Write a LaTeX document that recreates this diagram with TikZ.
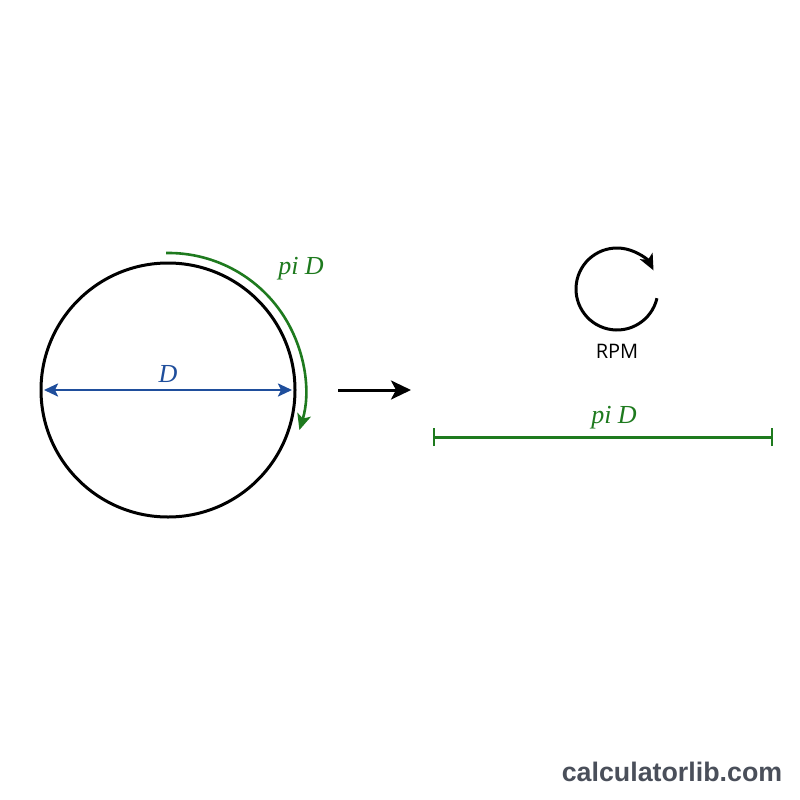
\documentclass[tikz,border=0pt]{standalone}
\usepackage{fontspec}
\setmainfont{Liberation Serif}
\newfontfamily\osans{Open Sans}
\newfontfamily\wmark{Liberation Sans}
\usetikzlibrary{arrows.meta,calc}
\definecolor{dblue}{HTML}{1F4E9C}
\definecolor{dgreen}{HTML}{1E7A1E}
\definecolor{wgray}{HTML}{4A4F5A}
\tikzset{
  lbl/.style={inner sep=0pt, font=\fontsize{26}{28}\selectfont\itshape},
  tipk/.style={-{Stealth[length=16pt,width=14pt,inset=4pt]}},
  tipbig/.style={-{Stealth[length=20pt,width=19pt,inset=5pt]}},
}
\begin{document}
\begin{tikzpicture}[x=1pt,y=-1pt]
\useasboundingbox[fill=white] (0,0) rectangle (800,800);
% main circle
\node[circle, draw, line width=3pt, minimum size=254pt, inner sep=0pt] (c) at (168,390) {};
% diameter
\coordinate (dl) at (44,390);
\coordinate (dr) at (292,390);
\draw[dblue, line width=2.4pt, {Stealth[length=14pt,width=13pt,inset=3pt]}-{Stealth[length=14pt,width=13pt,inset=3pt]}] (dl) -- (dr);
\node[lbl, text=dblue] (dlab) at (168,374) {D};
% circumference arc
\coordinate (a0) at (166,253);
\draw[dgreen, line width=2.6pt, tipk] (a0) arc[start angle=-91, end angle=17, radius=137];
\node[lbl, text=dgreen] (plab) at (301,269) {pi D};
% transform arrow
\coordinate (t0) at (338,390);
\coordinate (t1) at (411,390);
\draw[line width=3pt, tipbig] (t0) -- (t1);
% RPM
\coordinate (rc) at (617,289);
\draw[line width=3pt, tipk] ($(rc)+(13:41)$) arc[start angle=13, end angle=333, radius=41];
\node[font=\osans\fontsize{20}{22}\selectfont] (rpm) at (617,351) {RPM};
% unrolled length
\coordinate (g0) at (434,437);
\coordinate (g1) at (772,437);
\draw[dgreen, line width=3pt] (g0) -- (g1);
\draw[dgreen, line width=2.2pt] ([yshift=-9pt]g0) -- ([yshift=9pt]g0);
\draw[dgreen, line width=2.2pt] ([yshift=-9pt]g1) -- ([yshift=9pt]g1);
\node[lbl, text=dgreen] (glab) at (614,418) {pi D};
% watermark
\node[font=\wmark\bfseries\fontsize{26.8}{28}\selectfont, text=wgray] (wm) at (672,772) {calculatorlib.com};
\end{tikzpicture}
\end{document}
